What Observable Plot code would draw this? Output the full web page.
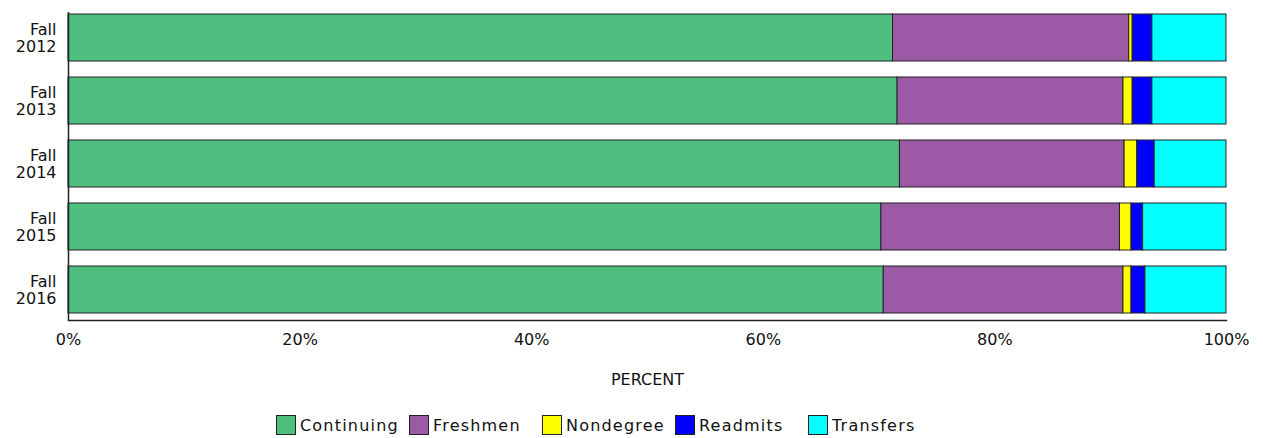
<!DOCTYPE html>
<html>
<head>
<meta charset="utf-8">
<script src="https://cdn.jsdelivr.net/npm/d3@7"></script>
<script src="https://cdn.jsdelivr.net/npm/@observablehq/plot@0.6"></script>
<style>
  body { margin: 0; background: #fff; font-family: "DejaVu Sans", sans-serif; }
  #legend { display: flex; justify-content: center; align-items: center; height: 38px; padding-top: 6px; padding-right: 46px; font-size: 16px; color: #111; letter-spacing: 1.2px; }
  #legend .item { display: flex; align-items: center; gap: 4px; width: 133px; }
  #legend .sw { width: 18px; height: 18px; border: 1px solid #222; box-sizing: content-box; flex: none; }
</style>
</head>
<body>
<div id="chart"></div>
<div id="legend"></div>
<script>
const years = ["Fall 2012", "Fall 2013", "Fall 2014", "Fall 2015", "Fall 2016"];
const categories = ["Continuing", "Freshmen", "Nondegree", "Readmits", "Transfers"];
const colors = ["#4fbf80", "#9b59a6", "#ffff00", "#0000ff", "#00ffff"];
const continuing = [71.2, 71.6, 71.8, 70.2, 70.4];
const freshmen   = [20.4, 19.5, 19.4, 20.6, 20.7];
const nondegree  = [0.3, 0.8, 1.1, 1.0, 0.7];
const readmits   = [1.7, 1.7, 1.5, 1.0, 1.2];
const transfers  = [6.4, 6.4, 6.2, 7.2, 7.0];
const xTicks = [0, 20, 40, 60, 80, 100];

const series = [continuing, freshmen, nondegree, readmits, transfers];
const data = [];
years.forEach((y, i) => categories.forEach((c, j) => data.push({year: y, category: c, value: series[j][i]})));

const chart = Plot.plot({
  width: 1263,
  height: 400,
  marginLeft: 68,
  marginRight: 37,
  marginTop: 12,
  marginBottom: 80,
  style: { fontFamily: "DejaVu Sans, sans-serif", fontSize: "16px", color: "#111", background: "#fff" },
  x: { domain: [0, 100] },
  y: { domain: years, paddingInner: 0.257, paddingOuter: 0.063, align: 0.25 },
  color: { domain: categories, range: colors },
  marks: [
    Plot.barX(data, Plot.stackX({ x: "value", y: "year", fill: "category", order: categories,
      stroke: "#222", strokeWidth: 1 })),
    Plot.axisX({ ticks: xTicks, tickFormat: d => d + "%", tickSize: 0, tickPadding: 13, fontSize: 16,
      label: "PERCENT", labelAnchor: "center", labelOffset: 64, labelArrow: false }),
    Plot.axisY({ tickSize: 0, tickPadding: 12, fontSize: 16, lineHeight: 1.05,
      tickFormat: d => d.replace(" ", "\n"), label: null }),
    Plot.ruleX([0], { stroke: "#222", strokeWidth: 1.5 }),
    Plot.frame({ anchor: "bottom", stroke: "#222", strokeWidth: 1.5 })
  ]
});
document.getElementById("chart").appendChild(chart);

const legend = document.getElementById("legend");
categories.forEach((c, i) => {
  const item = document.createElement("div");
  item.className = "item";
  const sw = document.createElement("div");
  sw.className = "sw";
  sw.style.background = colors[i];
  const label = document.createElement("span");
  label.textContent = c;
  item.appendChild(sw);
  item.appendChild(label);
  legend.appendChild(item);
});
</script>
</body>
</html>
